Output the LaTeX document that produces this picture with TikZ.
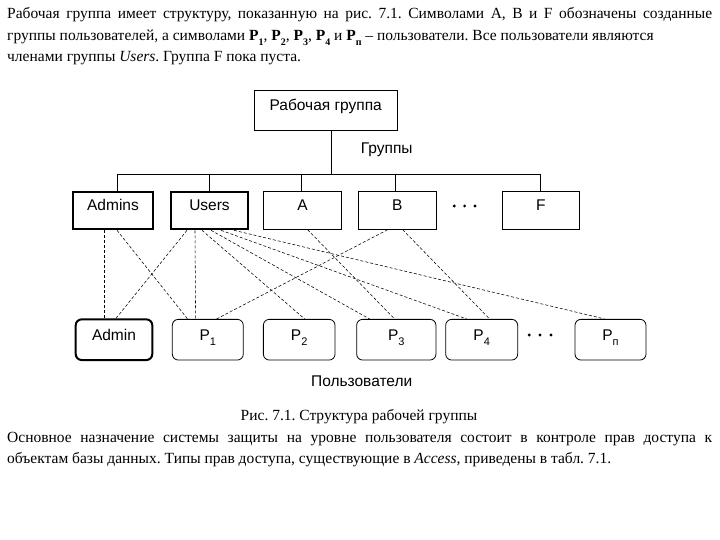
\documentclass[tikz,border=0pt]{standalone}
\usepackage{fontspec}
\setmainfont{Liberation Serif}
\newfontfamily\diagfont{Liberation Sans}
\newcommand\txtfont{\fontsize{15.5}{18}\selectfont\frenchspacing}
\newcommand\dsub[1]{\raisebox{-0.33em}{\fontsize{11}{11}\selectfont #1}}
\newcommand\tsub[1]{\raisebox{-0.3em}{\fontsize{10}{10}\selectfont\bfseries #1}}
\begin{document}
\frenchspacing
\begin{tikzpicture}[x=1pt,y=-1pt,
  grp/.style={draw, line width=0.8pt, minimum height=37.6pt, inner sep=0pt,
    text height=11pt, text depth=10pt, font=\diagfont\fontsize{15.5}{18}\selectfont},
  thk/.style={line width=2pt},
  usr/.style={draw, rounded corners=6pt, line width=0.8pt, minimum height=40.7pt, inner sep=0pt,
    text height=11pt, text depth=10pt, font=\diagfont\fontsize{15.5}{18}\selectfont},
  link/.style={dash pattern=on 3pt off 2pt, line width=0.55pt},
  tree/.style={line width=0.8pt},
  lab/.style={inner sep=0pt, font=\diagfont\fontsize{15.5}{18}\selectfont},
  txt/.style={anchor=base west, inner sep=0pt, font=\txtfont},
  dotty/.style={fill=black}
]
\useasboundingbox (0,0) rectangle (720,540);

% paragraph above
\node[txt] (t1) at (7,18.5) {\makebox[705pt][s]{Рабочая группа имеет структуру, показанную на рис. 7.1. Символами A, B и F обозначены созданные}};
\node[txt] (t2) at (7,40.5) {группы пользователей, а символами \textbf{P}\tsub{1}, \textbf{P}\tsub{2}, \textbf{P}\tsub{3}, \textbf{P}\tsub{4} и \textbf{P}\tsub{п} – пользователи. Все пользователи являются};
\node[txt] (t3) at (7,62) {членами группы \textit{Users}. Группа F пока пуста.};

% groups
\node[grp, minimum width=143.3pt, minimum height=40pt] (root) at (325.7,110) {Рабочая группа};
\node[grp, thk, minimum width=80.6pt] (admins) at (113,210.5) {Admins};
\node[grp, thk, minimum width=77.6pt] (users) at (209.5,210.5) {Users};
\node[grp, minimum width=78.4pt] (ga) at (302.5,210.5) {A};
\node[grp, minimum width=77.7pt] (gb) at (397.2,210.5) {B};
\node[grp, minimum width=77pt] (gf) at (540.8,210.5) {F};
\foreach \x in {454.3,464.6,475} \fill[dotty] (\x,206) circle (1.6pt);
\node[lab] (grlab) at (386.7,150) {Группы};

% tree
\coordinate (bar) at (331,174);
\draw[tree] ([xshift=5.3pt]root.south) -- (bar);
\draw[tree] ([xshift=4pt]admins.north |- bar) -- (gf.north |- bar);
\draw[tree] ([xshift=4pt]admins.north) -- ([xshift=4pt]admins.north |- bar);
\draw[tree] (users.north) -- (users.north |- bar);
\draw[tree] ([xshift=-0.8pt]ga.north) -- ([xshift=-0.8pt]ga.north |- bar);
\draw[tree] ([xshift=-1.5pt]gb.north) -- ([xshift=-1.5pt]gb.north |- bar);
\draw[tree] (gf.north) -- (gf.north |- bar);

% users
\node[usr, thk, minimum width=76.6pt] (admin) at (114,339.7) {Admin};
\node[usr, minimum width=71pt] (p1) at (207.8,339.7) {P\dsub{1}};
\node[usr, minimum width=71.7pt] (p2) at (299.2,339.7) {P\dsub{2}};
\node[usr, minimum width=79.3pt] (p3) at (396.3,339.7) {P\dsub{3}};
\node[usr, minimum width=72pt] (p4) at (481.7,339.7) {P\dsub{4}};
\node[usr, minimum width=71pt] (pn) at (610.5,339.7) {P\dsub{п}};
\foreach \x in {529.3,540,551} \fill[dotty] (\x,335) circle (1.6pt);
\node[lab] (uslab) at (361.7,381.7) {Пользователи};

% memberships
\draw[link] ([xshift=32.8pt]admins.south west) -- ([xshift=29.8pt]admin.north west);
\draw[link] ([xshift=45.3pt]admins.south west) -- ([xshift=15.7pt]p1.north west);
\draw[link] ([xshift=17.3pt]users.south west) -- ([xshift=41.3pt]admin.north west);
\draw[link] ([xshift=25.3pt]users.south west) -- ([xshift=23.7pt]p1.north west);
\draw[link] ([xshift=32.3pt]users.south west) -- ([xshift=41.7pt]p2.north west);
\draw[link] ([xshift=41.3pt]users.south west) -- ([xshift=13.3pt]p3.north west);
\draw[link] ([xshift=51.3pt]users.south west) -- ([xshift=21.3pt]p4.north west);
\draw[link] ([xshift=64.3pt]users.south west) -- ([xshift=30pt]pn.north west);
\draw[link] ([xshift=44.7pt]ga.south west) -- ([xshift=38.3pt]p3.north west);
\draw[link] ([xshift=29.7pt]gb.south west) -- ([xshift=44.7pt]p1.north west);
\draw[link] ([xshift=44.7pt]gb.south west) -- ([xshift=44.3pt]p4.north west);

% caption and paragraph below
\node[txt, anchor=base] (cap) at (359,420) {Рис. 7.1. Структура рабочей группы};
\node[txt] (b1) at (7,442) {\makebox[705pt][s]{Основное назначение системы защиты на уровне пользователя состоит в контроле прав доступа к}};
\node[txt] (b2) at (7,463) {объектам базы данных. Типы прав доступа, существующие в \textit{Access}, приведены в табл. 7.1.};
\end{tikzpicture}
\end{document}
